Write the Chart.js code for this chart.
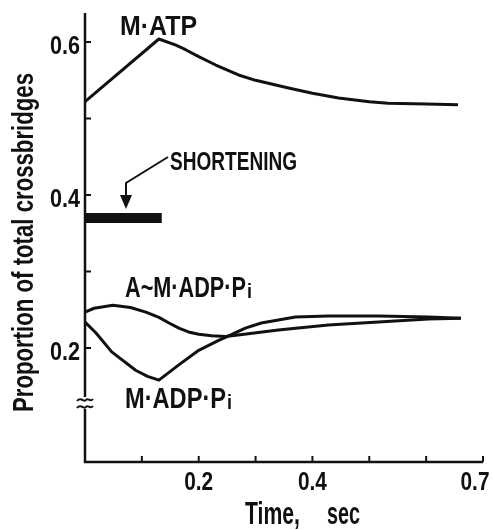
<!DOCTYPE html>
<html lang="en">
<head>
<meta charset="UTF-8" />
<title>Crossbridge states</title>
<script src="https://cdn.jsdelivr.net/npm/chart.js"></script>
<style>
  html, body { margin: 0; padding: 0; background: #fff; }
  canvas { display: block; }
</style>
</head>
<body>
<canvas id="chart" width="493" height="530"></canvas>
<script>
// values (time in sec, proportion of crossbridges)
const tATP = [0, 0.13, 0.16, 0.177, 0.2, 0.23, 0.27, 0.3, 0.358, 0.4, 0.446, 0.5, 0.533, 0.6, 0.656];
const mATP = [0.522, 0.604, 0.596, 0.590, 0.581, 0.570, 0.557, 0.550, 0.540, 0.533, 0.527, 0.522, 0.520, 0.519, 0.518];

const tAM = [0, 0.016, 0.049, 0.08, 0.107, 0.13, 0.147, 0.165, 0.182, 0.2, 0.223, 0.247, 0.28, 0.34, 0.428, 0.516, 0.604, 0.661];
const amADPPi = [0.247, 0.252, 0.256, 0.253, 0.247, 0.240, 0.233, 0.226, 0.221, 0.218, 0.216, 0.215, 0.218, 0.2235, 0.230, 0.234, 0.238, 0.239];

const tM = [0, 0.019, 0.047, 0.089, 0.11, 0.13, 0.165, 0.2, 0.235, 0.247, 0.282, 0.31, 0.37, 0.428, 0.516, 0.604, 0.661];
const mADPPi = [0.234, 0.220, 0.195, 0.171, 0.163, 0.158, 0.178, 0.197, 0.210, 0.214, 0.226, 0.2327, 0.2405, 0.242, 0.242, 0.2405, 0.239];

// shortening period marker
const shortT = [0, 0.135];
const shortLevel = 0.37;

const xTicks = [0.1, 0.2, 0.3, 0.4, 0.5, 0.6, 0.7];
const xLabels = [0.2, 0.4, 0.7];
const yTicks = [0.2, 0.3, 0.4, 0.5, 0.6];
const yLabels = [0.2, 0.4, 0.6];

const FAM = "'Liberation Sans', Arial, sans-serif";
const INK = '#111';

function pts(xs, ys) {
  return xs.map((x, i) => ({ x: x, y: ys[i] }));
}

// draw text squeezed to a given width (the original lettering is condensed)
function fitText(ctx, txt, x, y, w, size, align) {
  ctx.save();
  ctx.font = 'bold ' + size + 'px ' + FAM;
  const m = ctx.measureText(txt).width;
  if (align === 'right') x -= w;
  if (align === 'center') x -= w / 2;
  ctx.translate(x, y);
  ctx.scale(w / m, 1);
  ctx.textAlign = 'left';
  ctx.textBaseline = 'alphabetic';
  ctx.fillStyle = INK;
  ctx.fillText(txt, 0, 0);
  ctx.restore();
}

const decor = {
  id: 'decor',
  afterDraw(chart) {
    const ctx = chart.ctx;
    const a = chart.chartArea;
    const xs = chart.scales.x, ys = chart.scales.y;
    ctx.save();
    ctx.strokeStyle = INK;
    ctx.fillStyle = INK;
    ctx.lineWidth = 2.5;
    ctx.lineCap = 'butt';

    // axes, y axis broken near the bottom
    ctx.beginPath();
    ctx.moveTo(a.left, a.top);
    ctx.lineTo(a.left, 397);
    ctx.moveTo(a.left, 409);
    ctx.lineTo(a.left, a.bottom);
    ctx.lineTo(a.right, a.bottom);
    ctx.stroke();

    // break marks
    ctx.lineWidth = 2;
    [400, 407].forEach(yy => {
      ctx.beginPath();
      ctx.moveTo(a.left - 8, yy + 1);
      ctx.bezierCurveTo(a.left - 4, yy - 4, a.left - 1, yy + 3, a.left + 1, yy);
      ctx.bezierCurveTo(a.left + 3, yy - 3, a.left + 5, yy + 3, a.left + 8, yy - 1);
      ctx.stroke();
    });

    // inward ticks and their labels
    ctx.lineWidth = 2;
    ctx.beginPath();
    ys.ticks.forEach(t => {
      const p = ys.getPixelForValue(t.value);
      ctx.moveTo(a.left, p);
      ctx.lineTo(a.left + 6, p);
    });
    xs.ticks.forEach(t => {
      const p = xs.getPixelForValue(t.value);
      ctx.moveTo(p, a.bottom);
      ctx.lineTo(p, a.bottom - 6);
    });
    ctx.stroke();
    ys.ticks.forEach(t => {
      if (!yLabels.includes(t.value)) return;
      fitText(ctx, t.value.toFixed(1), a.left - 5, ys.getPixelForValue(t.value) + 12, 30, 25, 'right');
    });
    xs.ticks.forEach(t => {
      if (!xLabels.includes(t.value)) return;
      const c = Math.min(xs.getPixelForValue(t.value), chart.width - 18);
      fitText(ctx, t.value.toFixed(1), c, a.bottom + 28, 29, 25, 'center');
    });

    // curve labels
    fitText(ctx, 'M\u00b7ATP', 120, 35, 77, 28);
    fitText(ctx, 'A~M\u00b7ADP\u00b7P', 125, 297, 121, 29);
    fitText(ctx, 'i', 247, 298, 5, 20);
    fitText(ctx, 'M\u00b7ADP\u00b7P', 125, 408, 101, 30);
    fitText(ctx, 'i', 227, 409, 5, 20);

    // shortening note with arrow
    fitText(ctx, 'SHORTENING', 170, 170, 127, 25);
    ctx.lineWidth = 2;
    ctx.beginPath();
    ctx.moveTo(168, 157);
    ctx.lineTo(126, 183);
    ctx.lineTo(126, 198);
    ctx.stroke();
    ctx.beginPath();
    ctx.moveTo(120, 195);
    ctx.lineTo(132, 195);
    ctx.lineTo(126, 209);
    ctx.closePath();
    ctx.fill();

    // axis titles
    fitText(ctx, 'Time,', 245, 524, 55, 31);
    fitText(ctx, 'sec', 327, 524, 33, 31);
    ctx.save();
    ctx.translate(33, 412);
    ctx.rotate(-Math.PI / 2);
    fitText(ctx, 'Proportion of total crossbridges', 0, 0, 339, 29);
    ctx.restore();

    ctx.restore();
  }
};

const lineStyle = {
  borderColor: INK,
  borderWidth: 3,
  pointRadius: 0,
  tension: 0,
  borderJoinStyle: 'round',
  fill: false
};

new Chart(document.getElementById('chart'), {
  type: 'line',
  data: {
    datasets: [
      Object.assign({ label: 'M\u00b7ATP', data: pts(tATP, mATP) }, lineStyle),
      Object.assign({ label: 'A~M\u00b7ADP\u00b7Pi', data: pts(tAM, amADPPi) }, lineStyle),
      Object.assign({ label: 'M\u00b7ADP\u00b7Pi', data: pts(tM, mADPPi) }, lineStyle),
      {
        label: 'Shortening',
        data: pts(shortT, shortT.map(() => shortLevel)),
        borderColor: INK,
        borderWidth: 10,
        borderCapStyle: 'butt',
        pointRadius: 0,
        fill: false
      }
    ]
  },
  options: {
    responsive: false,
    animation: false,
    layout: { padding: { top: 13, right: 10, left: 0, bottom: 0 } },
    plugins: { legend: { display: false }, tooltip: { enabled: false } },
    scales: {
      x: {
        type: 'linear',
        min: 0,
        max: 0.7,
        afterBuildTicks: s => { s.ticks = xTicks.map(v => ({ value: v })); },
        afterFit: s => { s.height = 68; },
        grid: { display: false, drawTicks: false },
        border: { display: false },
        ticks: { display: false }
      },
      y: {
        min: 0.051,
        max: 0.638,
        afterBuildTicks: s => { s.ticks = yTicks.map(v => ({ value: v })); },
        afterFit: s => { s.width = 85; },
        grid: { display: false, drawTicks: false },
        border: { display: false },
        ticks: { display: false }
      }
    }
  },
  plugins: [decor]
});
</script>
</body>
</html>
